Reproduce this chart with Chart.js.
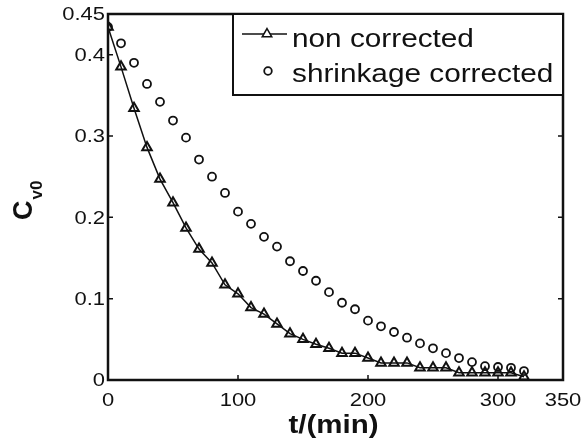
<!DOCTYPE html>
<html>
<head>
<meta charset="utf-8">
<script src="https://cdn.jsdelivr.net/npm/chart.js@4/dist/chart.umd.min.js"></script>
<style>
  html, body { margin: 0; padding: 0; background: #ffffff; }
  #wrap { width: 582px; height: 441px; }
</style>
</head>
<body>
<div id="wrap"><canvas id="c" width="582" height="441"></canvas></div>
<script>
// ---- data ----
const times = [0,10,20,30,40,50,60,70,80,90,100,110,120,130,140,150,160,170,180,190,200,210,220,230,240,250,260,270,280,290,300,310,320];
const nonCorrected = [0.434,0.385,0.334,0.286,0.247,0.218,0.187,0.161,0.144,0.117,0.106,0.089,0.081,0.069,0.057,0.050,0.044,0.039,0.033,0.033,0.027,0.021,0.021,0.021,0.015,0.015,0.015,0.009,0.009,0.009,0.009,0.009,0.004];
const shrinkageCorrected = [0.434,0.414,0.390,0.364,0.342,0.319,0.298,0.271,0.250,0.230,0.207,0.192,0.176,0.164,0.146,0.134,0.122,0.108,0.095,0.087,0.073,0.066,0.059,0.052,0.045,0.039,0.033,0.027,0.022,0.017,0.016,0.015,0.011];
const seriesNames = ['non corrected', 'shrinkage corrected'];
const xTicks = [0,100,200,300,350];
const yTicks = [0,0.1,0.2,0.3,0.4,0.45];
const xTitle = 't/(min)';
const yTitleMain = 'C';
const yTitleSub = 'v0';

const FONT = "'Liberation Sans', Arial, Helvetica, sans-serif";
const INK = '#111111';

function stretchedText(ctx, text, x, y, align, sx) {
  ctx.save();
  ctx.translate(x, y);
  ctx.scale(sx, 1);
  ctx.textAlign = align;
  ctx.fillText(text, 0, 0);
  ctx.restore();
}

const matlabAxes = {
  id: 'matlabAxes',
  afterDraw(chart) {
    const ctx = chart.ctx;
    const a = chart.chartArea;
    const xs = chart.scales.x, ys = chart.scales.y;
    ctx.save();
    // inward tick marks on all four sides
    ctx.strokeStyle = INK;
    ctx.lineWidth = 1.5;
    const tl = 5;
    xTicks.forEach(v => {
      const px = xs.getPixelForValue(v);
      if (px <= a.left + 1 || px >= a.right - 1) return;
      ctx.beginPath();
      ctx.moveTo(px, a.bottom); ctx.lineTo(px, a.bottom - tl);
      ctx.moveTo(px, a.top); ctx.lineTo(px, a.top + tl);
      ctx.stroke();
    });
    yTicks.forEach(v => {
      const py = ys.getPixelForValue(v);
      if (py <= a.top + 1 || py >= a.bottom - 1) return;
      ctx.beginPath();
      ctx.moveTo(a.left, py); ctx.lineTo(a.left + tl, py);
      ctx.moveTo(a.right, py); ctx.lineTo(a.right - tl, py);
      ctx.stroke();
    });
    // axes box
    ctx.lineWidth = 2.5;
    ctx.strokeRect(a.left, a.top, a.right - a.left, a.bottom - a.top);

    // tick labels (wide Helvetica look)
    ctx.fillStyle = INK;
    ctx.font = '18px ' + FONT;
    ctx.textBaseline = 'alphabetic';
    xTicks.forEach(v => {
      stretchedText(ctx, String(v), xs.getPixelForValue(v), a.bottom + 26, 'center', 1.22);
    });
    yTicks.forEach(v => {
      stretchedText(ctx, String(Math.round(v * 100) / 100), a.left - 3, ys.getPixelForValue(v) + 6.4, 'right', 1.22);
    });

    // x title
    ctx.font = 'bold 25px ' + FONT;
    stretchedText(ctx, xTitle, (a.left + a.right) / 2 - 2, 433, 'center', 1.18);

    // legend (box in the upper right corner of the axes)
    const bw = 330, bh = 81;
    const bx = a.right - bw, by = a.top;
    ctx.fillStyle = '#ffffff';
    ctx.fillRect(bx, by, bw, bh);
    ctx.lineWidth = 2;
    ctx.strokeStyle = INK;
    ctx.strokeRect(bx, by, bw, bh);
    const rows = [by + 20, by + 57];
    const ds = chart.data.datasets;
    ctx.lineWidth = 1.5;
    ctx.beginPath();
    ctx.moveTo(bx + 9, rows[0]); ctx.lineTo(bx + 54, rows[0]);
    ctx.stroke();
    Chart.helpers.drawPoint(ctx, {pointStyle: 'triangle', radius: 5.5, borderWidth: 2, rotation: 0}, bx + 34, rows[0]);
    ctx.strokeStyle = INK;
    ctx.lineWidth = 1.8;
    ctx.beginPath();
    ctx.arc(bx + 35, rows[1], 3.8, 0, Math.PI * 2);
    ctx.stroke();
    ctx.fillStyle = INK;
    ctx.font = '25px ' + FONT;
    ctx.textBaseline = 'alphabetic';
    stretchedText(ctx, ds[0].label, bx + 59, rows[0] + 13, 'left', 1.19);
    stretchedText(ctx, ds[1].label, bx + 59, rows[1] + 11, 'left', 1.19);

    // y-axis title with subscript, rotated
    ctx.translate(32, (a.top + a.bottom) / 2 + 23);
    ctx.rotate(-Math.PI / 2);
    ctx.textAlign = 'left';
    ctx.textBaseline = 'alphabetic';
    ctx.font = 'bold 27px ' + FONT;
    ctx.fillText(yTitleMain, 0, 0);
    const w = ctx.measureText(yTitleMain).width;
    ctx.font = 'bold 17px ' + FONT;
    ctx.fillText(yTitleSub, w + 1, 10);
    ctx.restore();
  }
};

new Chart(document.getElementById('c'), {
  type: 'scatter',
  data: {
    datasets: [
      {
        label: seriesNames[0],
        data: times.map((t, i) => ({x: t, y: nonCorrected[i]})),
        showLine: true,
        borderColor: INK,
        borderWidth: 1.5,
        pointStyle: 'triangle',
        pointRadius: 5.5,
        pointBorderWidth: 2,
        pointBorderColor: INK,
        pointBackgroundColor: 'rgba(0,0,0,0)',
        tension: 0
      },
      {
        label: seriesNames[1],
        data: times.map((t, i) => ({x: t, y: shrinkageCorrected[i]})),
        showLine: false,
        pointStyle: 'circle',
        pointRadius: 4,
        pointBorderWidth: 1.8,
        pointBorderColor: INK,
        pointBackgroundColor: 'rgba(0,0,0,0)'
      }
    ]
  },
  options: {
    responsive: false,
    animation: false,
    devicePixelRatio: 1,
    layout: { padding: { top: 14, right: 19, left: 0, bottom: 0 } },
    plugins: {
      legend: { display: false },
      tooltip: { enabled: false }
    },
    scales: {
      x: {
        type: 'linear',
        min: 0, max: 350,
        afterBuildTicks: s => { s.ticks = xTicks.map(v => ({value: v})); },
        afterFit: s => { s.height = 61; },
        grid: { display: false, drawTicks: false },
        border: { display: false },
        ticks: { display: false }
      },
      y: {
        type: 'linear',
        min: 0, max: 0.45,
        afterBuildTicks: s => { s.ticks = yTicks.map(v => ({value: v})); },
        afterFit: s => { s.width = 108; },
        grid: { display: false, drawTicks: false },
        border: { display: false },
        ticks: { display: false }
      }
    }
  },
  plugins: [matlabAxes]
});
</script>
</body>
</html>
